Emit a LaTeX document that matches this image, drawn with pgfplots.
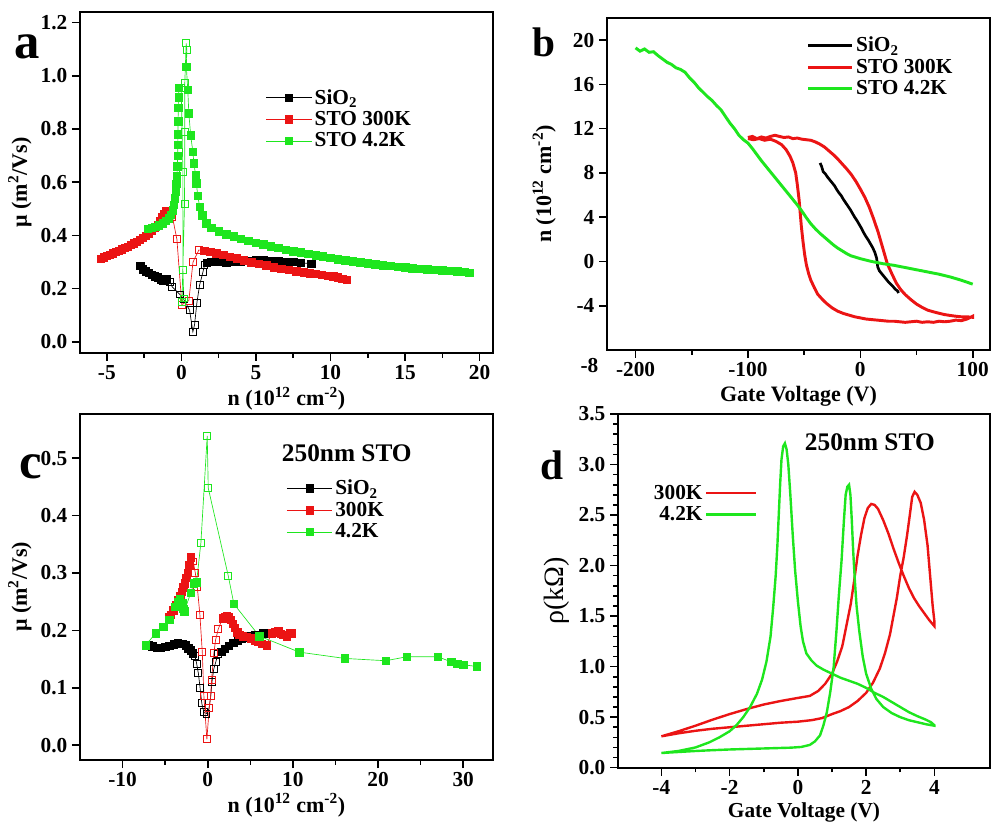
\documentclass[border=0pt]{standalone}
\usepackage{fontspec}
\setmainfont{Liberation Serif}
\usepackage{pgfplots}
\usepackage{pgfplotstable}
\pgfplotsset{compat=1.18}

\definecolor{cred}{RGB}{235,20,20}
\definecolor{cgreen}{RGB}{30,230,30}

\pgfplotsset{
  panel/.style={
    scale only axis,
    axis line style={line width=1.6pt},
    tick align=outside,
    xtick pos=left, ytick pos=left,
    major tick length=6pt, minor tick length=3.5pt,
    every tick/.style={black, line width=1.2pt},
    tick label style={font=\fontsize{16}{18}\selectfont\bfseries},
    label style={font=\fontsize{16.5}{19}\selectfont\bfseries},
    /pgf/number format/assume math mode=true,
    legend style={draw=none, fill=none, font=\fontsize{16}{19}\selectfont\bfseries, row sep=0pt},
    legend cell align=left,
  },
  onedec/.style={yticklabel style={/pgf/number format/.cd, fixed, fixed zerofill, precision=1}},
  marklegend/.style={legend image code/.code={\draw[##1, mark repeat=2, mark phase=2] plot coordinates {(0pt,0pt) (17pt,0pt) (34pt,0pt)};}},
  fmk/.style={forget plot, only marks, mark=square*, mark size=2.8pt, restrict expr to domain={\thisrow{f}}{1:1}},
  omk/.style={forget plot, only marks, mark=square, mark size=2.6pt, mark options={fill=white, line width=0.7pt}, restrict expr to domain={\thisrow{f}}{0:0}},
}

% ---------- panel a : mobility vs n ----------
\pgfplotstableread{
n mu f
-2.75 0.285 1
-2.6 0.272 1
-2.4 0.266 1
-2.2 0.259 1
-2.0 0.253 1
-1.8 0.247 1
-1.6 0.242 1
-1.4 0.236 1
-1.2 0.230 1
-1.0 0.236 1
-0.75 0.226 0
-0.62 0.207 0
-0.1 0.178 0
0.15 0.160 0
0.55 0.119 0
0.77 0.038 0
0.88 0.063 0
1.04 0.147 0
1.22 0.213 0
1.44 0.261 0
1.55 0.288 0
1.7 0.298 1
2.0 0.300 1
2.5 0.300 1
3.0 0.299 1
3.5 0.300 1
4.0 0.302 1
4.5 0.305 1
5.0 0.308 1
5.5 0.307 1
6.0 0.304 1
6.5 0.302 1
7.0 0.300 1
7.5 0.300 1
8.0 0.298 1
8.7 0.293 1
}\aSiO

\pgfplotstableread{
n mu f
-5.4 0.312 1
-5.2 0.318 1
-5.0 0.323 1
-4.8 0.328 1
-4.6 0.333 1
-4.4 0.338 1
-4.2 0.343 1
-4.0 0.348 1
-3.8 0.353 1
-3.6 0.358 1
-3.4 0.364 1
-3.2 0.370 1
-3.0 0.377 1
-2.8 0.384 1
-2.6 0.391 1
-2.4 0.399 1
-2.2 0.408 1
-2.0 0.418 1
-1.8 0.428 1
-1.6 0.441 1
-1.45 0.455 1
-1.3 0.468 1
-1.15 0.482 1
-1.05 0.490 1
-0.6 0.470 0
-0.3 0.385 0
0.03 0.140 0
0.5 0.155 0
0.78 0.300 0
1.17 0.345 0
1.55 0.343 1
1.95 0.338 1
2.35 0.333 1
2.8 0.327 1
3.25 0.320 1
3.7 0.314 1
4.2 0.307 1
4.7 0.299 1
5.2 0.293 1
5.7 0.287 1
6.2 0.281 1
6.7 0.275 1
7.2 0.270 1
7.7 0.265 1
8.2 0.262 1
8.6 0.258 1
9.0 0.255 1
9.4 0.252 1
9.8 0.249 1
10.2 0.246 1
10.5 0.242 1
10.8 0.238 1
11.1 0.234 1
}\aRT

\pgfplotstableread{
n mu f
-2.25 0.426 1
-2.0 0.428 1
-1.75 0.432 1
-1.5 0.438 1
-1.25 0.445 1
-1.05 0.455 1
-0.85 0.465 1
-0.7 0.478 1
-0.58 0.495 1
-0.5 0.515 1
-0.43 0.540 1
-0.38 0.565 1
-0.33 0.595 1
-0.3 0.625 1
-0.27 0.660 1
-0.25 0.700 1
-0.24 0.740 1
-0.23 0.780 1
-0.22 0.830 1
-0.21 0.880 1
-0.19 0.920 1
-0.17 0.955 1
-0.01 0.953 0
0.1 0.640 0
0.1 0.270 0
0.16 0.163 0
0.04 0.150 0
0.21 0.520 0
0.23 0.790 0
0.23 0.974 0
0.32 1.122 0
0.37 1.097 0
0.33 1.035 1
0.43 0.947 1
0.5 0.859 1
0.62 0.777 1
0.77 0.715 1
0.84 0.671 1
0.95 0.627 1
1.0 0.596 1
1.1 0.550 1
1.22 0.508 1
1.4 0.475 1
1.67 0.445 1
2.0 0.428 1
2.5 0.415 1
3.0 0.405 1
3.5 0.397 1
4.0 0.388 1
4.5 0.380 1
5.0 0.372 1
5.5 0.366 1
6.0 0.360 1
6.5 0.353 1
7.0 0.347 1
7.5 0.341 1
8.0 0.336 1
8.5 0.331 1
9.0 0.326 1
9.5 0.321 1
10.0 0.316 1
10.5 0.311 1
11.0 0.307 1
11.5 0.303 1
12.0 0.299 1
12.5 0.295 1
13.0 0.291 1
13.5 0.288 1
14.0 0.285 1
14.5 0.282 1
15.0 0.280 1
15.5 0.277 1
16.0 0.275 1
16.5 0.273 1
17.0 0.271 1
17.5 0.269 1
18.0 0.267 1
18.5 0.265 1
19.0 0.263 1
19.3 0.260 1
}\aLT

% ---------- panel c : 250nm STO mobility ----------
\pgfplotstableread{
n mu f
-7.0 0.174 1
-6.5 0.172 1
-6.0 0.170 1
-5.5 0.170 1
-5.0 0.171 1
-4.5 0.173 1
-4.0 0.176 1
-3.5 0.178 1
-3.0 0.177 1
-2.6 0.174 1
-2.3 0.169 1
-2.0 0.165 1
-1.75 0.160 1
-1.5 0.155 0
-1.3 0.142 0
-1.1 0.125 0
-0.9 0.100 0
-0.7 0.073 0
-0.45 0.057 0
-0.15 0.055 0
0.15 0.064 0
0.35 0.085 0
0.5 0.110 0
0.7 0.132 0
0.95 0.145 0
1.2 0.158 0
1.6 0.163 1
2.0 0.168 1
2.5 0.173 1
3.0 0.178 1
3.5 0.183 1
4.0 0.186 1
4.5 0.188 1
5.0 0.190 1
5.5 0.191 1
6.0 0.192 1
6.5 0.195 1
}\cSiO

\pgfplotstableread{
n mu f
-4.6 0.224 1
-4.36 0.227 1
-4.05 0.235 1
-3.75 0.244 1
-3.46 0.253 1
-3.25 0.260 1
-3.07 0.267 1
-2.85 0.275 1
-2.68 0.282 1
-2.5 0.292 1
-2.37 0.300 1
-2.17 0.314 1
-1.98 0.327 1
-1.7 0.320 0
-1.46 0.300 0
-1.23 0.276 0
-0.92 0.227 0
-0.64 0.162 0
-0.45 0.085 0
-0.1 0.010 0
0.17 0.064 0
0.34 0.085 0
0.45 0.113 0
0.72 0.160 0
0.92 0.183 0
1.23 0.202 0
1.74 0.221 1
2.0 0.224 1
2.21 0.225 1
2.45 0.223 1
2.72 0.218 1
2.95 0.211 1
3.19 0.204 1
3.45 0.197 1
3.7 0.192 1
4.1 0.190 1
4.56 0.189 1
5.05 0.186 1
5.54 0.183 1
5.95 0.180 1
6.32 0.177 1
6.91 0.174 1
7.5 0.195 1
7.9 0.197 1
8.28 0.198 1
8.6 0.194 1
8.87 0.192 1
9.26 0.189 1
9.65 0.196 1
9.84 0.195 1
}\cRT

\pgfplotstableread{
n mu f
-7.3 0.174 1
-6.1 0.195 1
-5.2 0.206 1
-4.5 0.218 1
-3.86 0.241 1
-3.5 0.250 1
-3.27 0.255 1
-3.0 0.248 1
-2.9 0.238 1
-2.76 0.233 1
-2.0 0.265 1
-1.62 0.282 1
-1.31 0.284 1
-0.8 0.353 0
-0.06 0.539 0
0.06 0.448 0
2.41 0.295 0
3.07 0.246 1
6.05 0.190 1
10.75 0.162 1
16.1 0.151 1
20.9 0.147 1
23.4 0.154 1
27.0 0.154 1
28.6 0.145 1
29.3 0.142 1
30.0 0.140 1
31.6 0.137 1
}\cLT

\begin{document}
\begin{tikzpicture}
\useasboundingbox (0,0) rectangle (744pt,615.75pt);

% ================= a =================
\begin{axis}[panel, onedec, marklegend,
  at={(60pt,351pt)}, anchor=south west,
  width=309.75pt, height=255.75pt,
  xmin=-6.8, xmax=20.9, ymin=-0.042, ymax=1.24,
  xtick={-5,0,5,10,15,20}, minor x tick num=1,
  ytick={0,0.2,0.4,0.6,0.8,1.0,1.2},
  xlabel={n (10\textsuperscript{12} cm\textsuperscript{-2})},
  xlabel style={yshift=1.5pt},
  ylabel={μ (m\textsuperscript{2}/Vs)},
  legend style={at={(0.44,0.79)}, anchor=north west},
]
\addlegendimage{black, line width=0.5pt, mark=square*, mark size=2.8pt, mark options={solid, fill=black}}
\addlegendentry{SiO\textsubscript{2}}
\addlegendimage{cred, line width=0.5pt, mark=square*, mark size=2.8pt, mark options={solid, fill=cred}}
\addlegendentry{STO 300K}
\addlegendimage{cgreen, line width=0.5pt, mark=square*, mark size=2.8pt, mark options={solid, fill=cgreen}}
\addlegendentry{STO 4.2K}

\addplot[forget plot, black, line width=0.5pt] table[x=n, y=mu] {\aSiO};
\addplot[fmk, black] table[x=n, y=mu] {\aSiO};
\addplot[omk, black] table[x=n, y=mu] {\aSiO};

\addplot[forget plot, cred, line width=0.5pt] table[x=n, y=mu] {\aRT};
\addplot[fmk, cred] table[x=n, y=mu] {\aRT};
\addplot[omk, cred] table[x=n, y=mu] {\aRT};

\addplot[forget plot, cgreen, line width=0.5pt] table[x=n, y=mu] {\aLT};
\addplot[fmk, cgreen] table[x=n, y=mu] {\aLT};
\addplot[omk, cgreen] table[x=n, y=mu] {\aLT};
\end{axis}

% ================= b =================
\begin{axis}[panel,
  at={(455.25pt,353.25pt)}, anchor=south west,
  width=287.25pt, height=249pt,
  xmin=-225.4, xmax=115.4, ymin=-8, ymax=22,
  xtick={-200,-100,0,100}, minor x tick num=1,
  ytick={-4,0,4,8,12,16,20},
  extra y ticks={-8}, extra y tick style={yticklabel style={yshift=-12pt, xshift=-3pt}, major tick length=0pt},
  xlabel={Gate Voltage (V)},
  ylabel={n (10\textsuperscript{12} cm\textsuperscript{-2})},
  legend style={at={(0.51,0.96)}, anchor=north west},
  legend image code/.code={\draw[#1] (0pt,0pt) -- (33pt,0pt);},
]
\addplot[black, line width=2pt] coordinates {
(-35.8,8.9)(-34.5,8.6)(-33,8.1)(-31,7.9)(-29,7.6)(-27,7.35)(-25,7.1)(-23,6.85)(-21,6.5)(-19,6.2)(-17,5.95)(-15,5.6)(-13,5.3)(-11,5.0)(-9,4.7)(-7,4.35)(-5,4.0)(-3,3.7)(-1,3.35)(1,3.0)(3,2.6)(5,2.25)(7,1.95)(9,1.6)(11,1.25)(13,0.8)(14.5,0.3)(15,-0.1)(15.5,-0.5)(17,-0.85)(19,-1.1)(21,-1.35)(23,-1.6)(25,-1.85)(27,-2.05)(29,-2.25)(31,-2.5)(33,-2.65)(34,-2.85)
};
\addlegendentry{SiO\textsubscript{2}}
\addplot[cred, line width=2.2pt] coordinates {
(-100,11.2)(-96,11.3)(-92,11.1)(-88,11.25)(-84,11.15)(-80,11.3)(-76,11.4)(-72,11.3)(-68,11.2)(-64,11.25)(-60,11.1)(-56,11.15)(-52,11.05)(-48,11.0)(-44,10.95)(-40,10.8)(-36,10.6)(-32,10.35)(-28,10.0)(-24,9.65)(-20,9.25)(-16,8.8)(-12,8.35)(-8,7.85)(-4,7.25)(0,6.55)(4,5.8)(8,4.9)(12,3.8)(16,2.6)(20,1.2)(24,-0.2)(28,-1.1)(32,-1.95)(36,-2.55)(40,-3.0)(45,-3.45)(50,-3.85)(55,-4.15)(60,-4.4)(65,-4.55)(70,-4.68)(75,-4.8)(80,-4.88)(85,-4.95)(90,-5.0)(95,-5.0)(100,-5.05)
(100,-4.95)(95,-5.2)(90,-5.35)(85,-5.3)(80,-5.4)(75,-5.45)(70,-5.4)(65,-5.5)(60,-5.45)(55,-5.5)(50,-5.4)(45,-5.45)(40,-5.5)(35,-5.45)(30,-5.4)(25,-5.4)(20,-5.35)(15,-5.3)(10,-5.25)(5,-5.2)(0,-5.1)(-5,-5.0)(-10,-4.85)(-15,-4.7)(-20,-4.5)(-25,-4.2)(-30,-3.8)(-34,-3.4)(-38,-2.95)(-41,-2.35)(-44,-1.7)(-46,-1.1)(-48,-0.3)(-49.5,0.6)(-51,1.8)(-52.5,3.2)(-53.5,4.4)(-54.5,5.6)(-56,6.9)(-57.5,8.0)(-60,8.9)(-62.5,9.5)(-66,10.1)(-70,10.55)(-75,10.85)(-80,11.05)(-85,10.95)(-90,11.1)(-95,11.0)(-100,11.1)
};
\addlegendentry{STO 300K}
\addplot[cgreen, line width=2.2pt] coordinates {
(-200,19.3)(-196,19.0)(-192,19.2)(-188,18.9)(-184,18.95)(-180,18.6)(-176,18.3)(-172,18.0)(-168,17.8)(-164,17.5)(-160,17.35)(-156,17.1)(-152,16.6)(-148,16.2)(-144,15.7)(-140,15.3)(-136,14.9)(-132,14.55)(-128,14.1)(-124,13.7)(-120,13.1)(-116,12.5)(-112,12.0)(-108,11.4)(-104,11.0)(-100,10.7)(-96,10.2)(-92,9.65)(-88,9.1)(-84,8.6)(-80,8.1)(-76,7.6)(-72,7.1)(-68,6.6)(-64,6.1)(-60,5.6)(-56,5.1)(-52,4.55)(-48,3.95)(-44,3.4)(-40,2.95)(-36,2.55)(-32,2.2)(-28,1.85)(-24,1.5)(-20,1.2)(-16,0.95)(-12,0.7)(-8,0.5)(-4,0.38)(0,0.25)(10,0.0)(20,-0.2)(30,-0.35)(40,-0.55)(50,-0.75)(60,-0.95)(70,-1.15)(80,-1.4)(90,-1.7)(100,-2.05)
};
\addlegendentry{STO 4.2K}
\end{axis}

% ================= c =================
\begin{axis}[panel, onedec, marklegend,
  at={(60pt,45.75pt)}, anchor=south west,
  width=309.75pt, height=259.5pt,
  xmin=-15, xmax=33.5, ymin=-0.026, ymax=0.577,
  xtick={-10,0,10,20,30}, minor x tick num=1,
  ytick={0,0.1,0.2,0.3,0.4,0.5},
  xlabel={n (10\textsuperscript{12} cm\textsuperscript{-2})},
  xlabel style={yshift=2pt},
  ylabel={μ (m\textsuperscript{2}/Vs)},
  legend style={at={(0.49,0.825)}, anchor=north west},
]
\node[font=\fontsize{19}{21}\selectfont\bfseries] at (rel axis cs:0.646,0.887) {250nm STO};
\addlegendimage{black, line width=0.5pt, mark=square*, mark size=2.8pt, mark options={solid, fill=black}}
\addlegendentry{SiO\textsubscript{2}}
\addlegendimage{cred, line width=0.5pt, mark=square*, mark size=2.8pt, mark options={solid, fill=cred}}
\addlegendentry{300K}
\addlegendimage{cgreen, line width=0.5pt, mark=square*, mark size=2.8pt, mark options={solid, fill=cgreen}}
\addlegendentry{4.2K}

\addplot[forget plot, black, line width=0.5pt] table[x=n, y=mu] {\cSiO};
\addplot[fmk, black] table[x=n, y=mu] {\cSiO};
\addplot[omk, black] table[x=n, y=mu] {\cSiO};

\addplot[forget plot, cred, line width=0.5pt] table[x=n, y=mu] {\cRT};
\addplot[fmk, cred] table[x=n, y=mu] {\cRT};
\addplot[omk, cred] table[x=n, y=mu] {\cRT};

\addplot[forget plot, cgreen, line width=0.5pt] table[x=n, y=mu] {\cLT};
\addplot[fmk, cgreen] table[x=n, y=mu] {\cLT};
\addplot[omk, cgreen] table[x=n, y=mu] {\cLT};
\end{axis}

% ================= d =================
\begin{axis}[panel, onedec,
  at={(463.5pt,40pt)}, anchor=south west,
  width=279pt, height=265.25pt,
  xmin=-5.27, xmax=5.63, ymin=0, ymax=3.5,
  xtick={-4,-2,0,2,4}, minor x tick num=1,
  ytick={0,0.5,1,1.5,2,2.5,3,3.5}, minor y tick num=4,
  xlabel={Gate Voltage (V)},
  xlabel style={yshift=1pt, font=\fontsize{16}{18}\selectfont\bfseries},
  ylabel={ρ(kΩ)},
  ylabel style={font=\fontsize{21}{23}\selectfont},
  legend style={at={(0.385,0.815)}, anchor=north east, cells={anchor=east}},
  legend plot pos=right,
  legend image code/.code={\draw[#1] (0pt,0pt) -- (37pt,0pt);},
]
\node[font=\fontsize{19}{21}\selectfont\bfseries] at (rel axis cs:0.677,0.92) {250nm STO};
\addplot[cred, line width=1.8pt] coordinates {
(-4,0.31)(-3.5,0.36)(-3,0.415)(-2.5,0.475)(-2,0.53)(-1.5,0.58)(-1,0.625)(-0.5,0.66)(0,0.69)(0.35,0.71)(0.6,0.76)(0.8,0.83)(1.0,0.93)(1.15,1.05)(1.3,1.2)(1.42,1.4)(1.55,1.62)(1.65,1.85)(1.75,2.1)(1.85,2.3)(1.95,2.47)(2.05,2.57)(2.15,2.61)(2.25,2.6)(2.35,2.56)(2.5,2.45)(2.65,2.32)(2.8,2.17)(2.95,2.03)(3.1,1.9)(3.25,1.78)(3.4,1.68)(3.55,1.6)(3.7,1.53)(3.85,1.46)(4.0,1.4)
(4.0,1.45)(3.95,1.6)(3.9,1.8)(3.85,2.0)(3.8,2.2)(3.7,2.45)(3.6,2.62)(3.5,2.7)(3.42,2.73)(3.35,2.68)(3.28,2.5)(3.2,2.3)(3.1,2.08)(3.0,1.9)(2.9,1.68)(2.8,1.5)(2.7,1.32)(2.55,1.13)(2.4,0.98)(2.2,0.84)(2.0,0.74)(1.75,0.66)(1.5,0.6)(1.25,0.56)(1.0,0.53)(0.7,0.49)(0.4,0.47)(0,0.455)(-0.5,0.445)(-1,0.43)(-1.5,0.415)(-2,0.4)(-2.5,0.385)(-3,0.365)(-3.5,0.34)(-4,0.31)
};
\addlegendentry{300K}
\addplot[cgreen, line width=1.8pt] coordinates {
(-4,0.145)(-3.5,0.155)(-3,0.165)(-2.5,0.173)(-2,0.18)(-1.5,0.185)(-1,0.19)(-0.5,0.195)(-0.2,0.198)(0.1,0.205)(0.35,0.225)(0.5,0.26)(0.65,0.32)(0.75,0.42)(0.85,0.55)(0.95,0.75)(1.05,1.0)(1.13,1.35)(1.2,1.7)(1.28,2.05)(1.35,2.45)(1.4,2.7)(1.45,2.78)(1.5,2.8)(1.54,2.7)(1.58,2.45)(1.62,2.15)(1.67,1.85)(1.72,1.6)(1.8,1.35)(1.9,1.1)(2.0,0.93)(2.15,0.78)(2.3,0.68)(2.5,0.6)(2.75,0.54)(3.0,0.5)(3.25,0.47)(3.5,0.45)(3.75,0.43)(4.0,0.415)
(4.0,0.42)(3.9,0.45)(3.75,0.475)(3.5,0.51)(3.25,0.55)(3.0,0.6)(2.75,0.65)(2.5,0.7)(2.25,0.74)(2.0,0.79)(1.75,0.83)(1.5,0.86)(1.25,0.89)(1.0,0.93)(0.75,0.97)(0.55,1.01)(0.4,1.06)(0.25,1.13)(0.15,1.25)(0.08,1.4)(0.0,1.65)(-0.08,1.95)(-0.15,2.3)(-0.22,2.7)(-0.28,3.0)(-0.33,3.15)(-0.38,3.21)(-0.43,3.18)(-0.48,3.05)(-0.52,2.8)(-0.56,2.5)(-0.6,2.2)(-0.65,1.9)(-0.72,1.6)(-0.8,1.3)(-0.92,1.05)(-1.05,0.87)(-1.2,0.73)(-1.4,0.6)(-1.6,0.5)(-1.8,0.42)(-2.0,0.36)(-2.3,0.3)(-2.6,0.25)(-3.0,0.2)(-3.5,0.165)(-4.0,0.145)
};
\addlegendentry{4.2K}
\end{axis}

% panel letters
\node[anchor=base, font=\fontsize{38}{38}\selectfont\bfseries] at (20.6pt,572pt) {a};
\node[anchor=base, font=\fontsize{31}{31}\selectfont\bfseries] at (408pt,573pt) {b};
\node[anchor=base, font=\fontsize{38}{38}\selectfont\bfseries] at (23.3pt,257pt) {c};
\node[anchor=base, font=\fontsize{31}{31}\selectfont\bfseries] at (414pt,256pt) {d};
\end{tikzpicture}
\end{document}
